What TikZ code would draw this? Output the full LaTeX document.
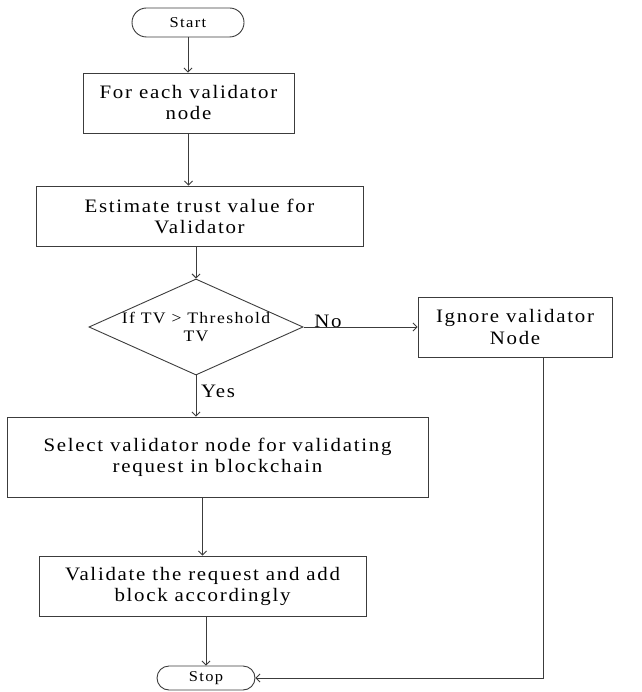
\documentclass[tikz,border=0pt]{standalone}
\usepackage{fontspec}
\setmainfont{Liberation Serif}[FakeStretch=1.1,LetterSpace=9]
\usetikzlibrary{shapes.geometric,shapes.misc,arrows.meta}
\definecolor{linegray}{HTML}{3C3C3C}
\tikzset{
  box/.style={draw=linegray, line width=0.9pt, rectangle, align=center, inner sep=0pt,
    font=\fontsize{19}{21}\selectfont},
  term/.style={draw=linegray, line width=0.9pt, rounded rectangle, inner sep=0pt,
    font=\fontsize{15}{17}\selectfont},
  decision/.style={draw=linegray, line width=0.9pt, diamond, aspect=2.23, inner sep=0pt,
    align=center, font=\fontsize{16}{18}\selectfont},
  flow/.style={draw=linegray, line width=0.9pt, -{Straight Barb[length=4pt,width=8pt]}},
  lbl/.style={font=\fontsize{19}{21}\selectfont, inner sep=0pt}
}
\begin{document}
\begin{tikzpicture}[x=1pt,y=-1pt]
\useasboundingbox (0,0) rectangle (641,692);

% steps of the flow
\node[term, minimum width=112pt, minimum height=29pt] (start) at (188,22.5) {Start};
\node[box, minimum width=211pt, minimum height=60pt] (b1) at (188.5,103) {For each validator\\node};
\node[box, minimum width=327pt, minimum height=60pt] (b2) at (199.5,216) {Estimate trust value for\\Validator};
\node[decision, minimum width=212pt, minimum height=95pt] (dec) at (196,327) {If TV > Threshold\\TV};
\node[box, minimum width=194pt, minimum height=60pt] (ign) at (515,327) {Ignore validator\\Node};
\node[box, minimum width=421pt, minimum height=80pt] (sel) at (217.5,457) {Select validator node for validating\\request in blockchain};
\node[box, minimum width=327pt, minimum height=60pt] (val) at (202.5,586) {Validate the request and add\\block accordingly};
\node[term, minimum width=98pt, minimum height=24pt] (stop) at (206,678) {Stop};

% branch labels
\node[lbl] (no) at (328,321) {No};
\node[lbl] (yes) at (218,391) {Yes};

% connectors
\draw[flow] (start.south) -- (start.south |- b1.north);
\draw[flow] (b1.south) -- (b1.south |- b2.north);
\draw[flow] (dec.north |- b2.south) -- (dec.north);
\draw[flow] (dec.east) -- (ign.west);
\draw[flow] (dec.south) -- (dec.south |- sel.north);
\draw[flow] (sel.south -| val.north) -- (val.north);
\draw[flow] (val.south -| stop.north) -- (stop.north);
\coordinate (ignout) at ([xshift=28pt]ign.south);
\draw[flow] (ignout) |- (stop.east);
\end{tikzpicture}
\end{document}
